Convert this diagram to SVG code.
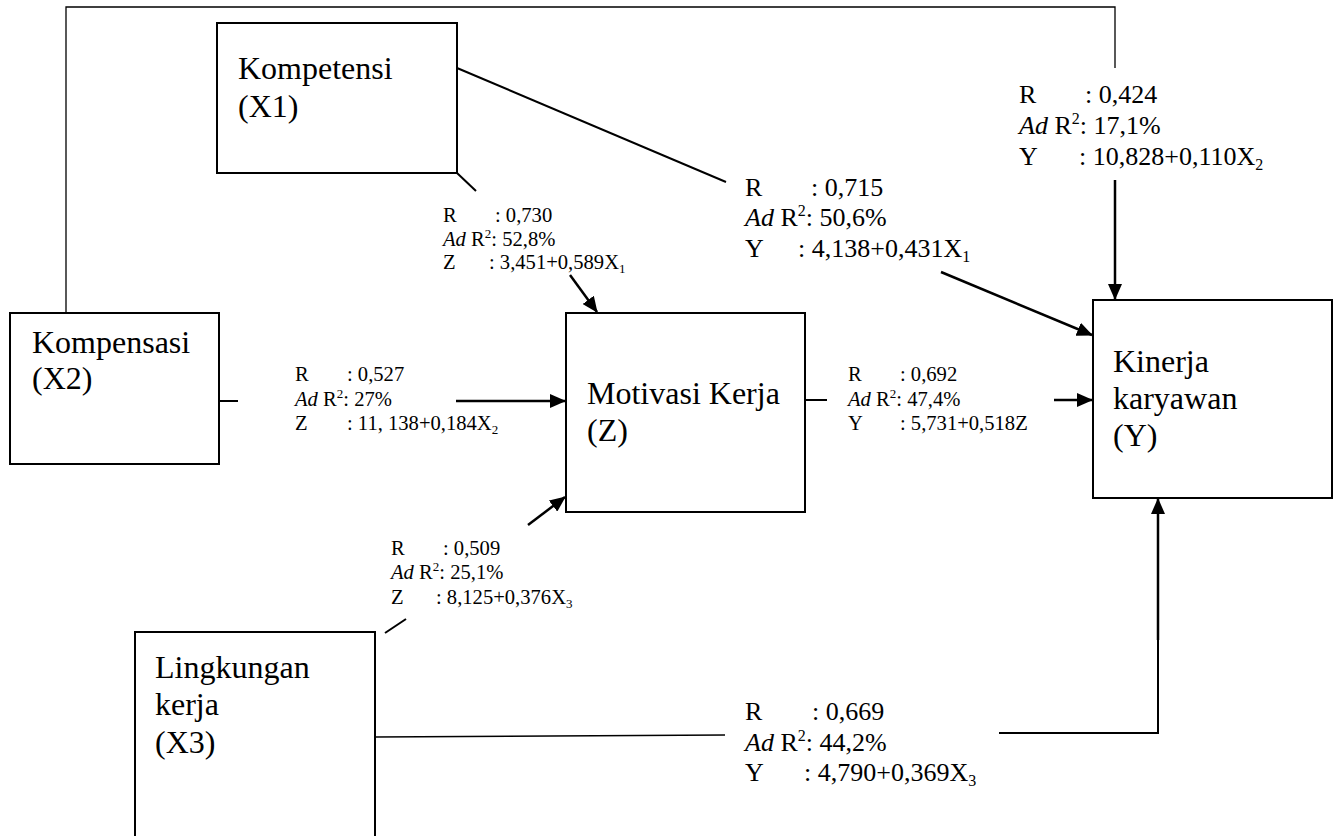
<svg xmlns="http://www.w3.org/2000/svg" width="1334" height="836" viewBox="0 0 1334 836" font-family="'Liberation Serif', 'Times New Roman', Tinos, 'DejaVu Serif', serif">
<style>
text{font-family:'Liberation Serif','Times New Roman',Tinos,'DejaVu Serif',serif;fill:#000}
.big{font-size:32px}
.lg{font-size:26px}
.sm{font-size:20.6px}
.box{fill:#fff;stroke:#000;stroke-width:2}
.ln{fill:none;stroke:#000;stroke-width:2}
.thin{fill:none;stroke:#000;stroke-width:1.3}
.arr{fill:none;stroke:#000;stroke-width:2.5;marker-end:url(#ah)}
</style>
<defs>
<marker id="ah" markerUnits="userSpaceOnUse" markerWidth="16" markerHeight="14" refX="15" refY="7" orient="auto">
<path d="M0,0 L16,7 L0,14 Z" fill="#000"/>
</marker>
</defs>
<g id="connectors">
<polyline class="thin" points="66,313 66,7 1115,7 1115,68"/>
<line class="arr" x1="1115" y1="180" x2="1115" y2="299"/>
<line class="ln" x1="457" y1="68" x2="726" y2="182"/>
<line class="arr" x1="941" y1="272" x2="1092" y2="335"/>
<line class="ln" x1="457" y1="173" x2="476" y2="191"/>
<line class="arr" x1="570" y1="275" x2="597" y2="312"/>
<line class="ln" x1="219" y1="401" x2="238" y2="401"/>
<line class="arr" x1="456" y1="401" x2="565" y2="401"/>
<line class="ln" x1="805" y1="400" x2="827" y2="400"/>
<line class="arr" x1="1054" y1="400" x2="1092" y2="400"/>
<line class="ln" x1="385" y1="633" x2="406" y2="619"/>
<line class="arr" x1="528" y1="525" x2="565" y2="497"/>
<line class="thin" x1="375" y1="737" x2="725" y2="735"/>
<polyline class="ln" points="999,733 1158,733 1158,630"/>
<line class="arr" x1="1158" y1="640" x2="1158" y2="499"/>
</g>
<g id="node-kompetensi">
<rect class="box" x="217" y="23" width="240" height="150"/>
<text class="big" x="238" y="79">Kompetensi</text>
<text class="big" x="238" y="117">(X1)</text>
</g>
<g id="node-kompensasi">
<rect class="box" x="10" y="313" width="209" height="151"/>
<text class="big" x="32" y="353">Kompensasi</text>
<text class="big" x="32" y="389">(X2)</text>
</g>
<g id="node-motivasi">
<rect class="box" x="566" y="313" width="239" height="199"/>
<text class="big" x="587" y="404">Motivasi Kerja</text>
<text class="big" x="587" y="441">(Z)</text>
</g>
<g id="node-kinerja">
<rect class="box" x="1093" y="300" width="239" height="198"/>
<text class="big" x="1113" y="372">Kinerja</text>
<text class="big" x="1113" y="409">karyawan</text>
<text class="big" x="1113" y="446">(Y)</text>
</g>
<g id="node-lingkungan">
<rect class="box" x="135" y="632" width="240" height="220"/>
<text class="big" x="155" y="678">Lingkungan</text>
<text class="big" x="155" y="715">kerja</text>
<text class="big" x="155" y="753">(X3)</text>
</g>
<g id="labels">
<g id="label-x1-z" class="sm">
<text x="443" y="222">R<tspan x="495">: 0,730</tspan></text>
<text x="443" y="246"><tspan font-style="italic">Ad</tspan> R<tspan font-size="13" dy="-8">2</tspan><tspan dy="8">: 52,8%</tspan></text>
<text x="443" y="269">Z<tspan x="489">: 3,451+0,589X</tspan><tspan font-size="13" dy="4">1</tspan></text>
</g>
<g id="label-x1-y" class="lg">
<text x="745" y="196">R<tspan x="811">: 0,715</tspan></text>
<text x="745" y="226"><tspan font-style="italic">Ad</tspan> R<tspan font-size="16" dy="-10">2</tspan><tspan dy="10">: 50,6%</tspan></text>
<text x="745" y="257">Y<tspan x="798">: 4,138+0,431X</tspan><tspan font-size="16" dy="5">1</tspan></text>
</g>
<g id="label-x2-y" class="lg">
<text x="1019" y="103">R<tspan x="1085">: 0,424</tspan></text>
<text x="1019" y="134"><tspan font-style="italic">Ad</tspan> R<tspan font-size="16" dy="-10">2</tspan><tspan dy="10">: 17,1%</tspan></text>
<text x="1019" y="165">Y<tspan x="1079">: 10,828+0,110X</tspan><tspan font-size="16" dy="5">2</tspan></text>
</g>
<g id="label-x2-z" class="sm">
<text x="295" y="381">R<tspan x="347">: 0,527</tspan></text>
<text x="295" y="406"><tspan font-style="italic">Ad</tspan> R<tspan font-size="13" dy="-8">2</tspan><tspan dy="8">: 27%</tspan></text>
<text x="295" y="430">Z<tspan x="347">: 11, 138+0,184X</tspan><tspan font-size="13" dy="4">2</tspan></text>
</g>
<g id="label-z-y" class="sm">
<text x="848" y="381">R<tspan x="900">: 0,692</tspan></text>
<text x="848" y="406"><tspan font-style="italic">Ad</tspan> R<tspan font-size="13" dy="-8">2</tspan><tspan dy="8">: 47,4%</tspan></text>
<text x="848" y="430">Y<tspan x="900">: 5,731+0,518Z</tspan></text>
</g>
<g id="label-x3-z" class="sm">
<text x="391" y="555">R<tspan x="443">: 0,509</tspan></text>
<text x="391" y="579"><tspan font-style="italic">Ad</tspan> R<tspan font-size="13" dy="-8">2</tspan><tspan dy="8">: 25,1%</tspan></text>
<text x="391" y="604">Z<tspan x="436">: 8,125+0,376X</tspan><tspan font-size="13" dy="4">3</tspan></text>
</g>
<g id="label-x3-y" class="lg">
<text x="745" y="720">R<tspan x="812">: 0,669</tspan></text>
<text x="745" y="751"><tspan font-style="italic">Ad</tspan> R<tspan font-size="16" dy="-10">2</tspan><tspan dy="10">: 44,2%</tspan></text>
<text x="745" y="781">Y<tspan x="804">: 4,790+0,369X</tspan><tspan font-size="16" dy="5">3</tspan></text>
</g>
</g>
</svg>
